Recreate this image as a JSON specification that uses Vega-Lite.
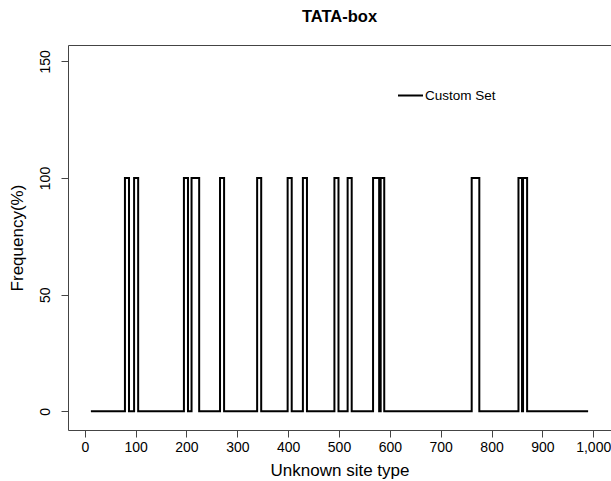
{
  "$schema": "https://vega.github.io/schema/vega-lite/v6.json",
  "autosize": "none",
  "width": 543,
  "height": 385,
  "padding": {"left": 68, "top": 45, "right": 0, "bottom": 51},
  "background": "white",
  "title": {
    "text": "TATA-box",
    "font": "Liberation Sans",
    "fontSize": 16.5,
    "fontWeight": "bold",
    "anchor": "middle",
    "offset": 20,
    "color": "#000"
  },
  "config": {
    "view": {"stroke": "#444", "strokeWidth": 1},
    "font": "Liberation Sans"
  },
  "data": {
    "values": [
      {"x": 12, "y": 0, "series": "Custom Set"},
      {"x": 79, "y": 100, "series": "Custom Set"},
      {"x": 87, "y": 0, "series": "Custom Set"},
      {"x": 97, "y": 100, "series": "Custom Set"},
      {"x": 105, "y": 0, "series": "Custom Set"},
      {"x": 195, "y": 100, "series": "Custom Set"},
      {"x": 203, "y": 0, "series": "Custom Set"},
      {"x": 210, "y": 100, "series": "Custom Set"},
      {"x": 225, "y": 0, "series": "Custom Set"},
      {"x": 266, "y": 100, "series": "Custom Set"},
      {"x": 274, "y": 0, "series": "Custom Set"},
      {"x": 339, "y": 100, "series": "Custom Set"},
      {"x": 347, "y": 0, "series": "Custom Set"},
      {"x": 399, "y": 100, "series": "Custom Set"},
      {"x": 407, "y": 0, "series": "Custom Set"},
      {"x": 429, "y": 100, "series": "Custom Set"},
      {"x": 437, "y": 0, "series": "Custom Set"},
      {"x": 491, "y": 100, "series": "Custom Set"},
      {"x": 499, "y": 0, "series": "Custom Set"},
      {"x": 517, "y": 100, "series": "Custom Set"},
      {"x": 525, "y": 0, "series": "Custom Set"},
      {"x": 567, "y": 100, "series": "Custom Set"},
      {"x": 579, "y": 0, "series": "Custom Set"},
      {"x": 582, "y": 100, "series": "Custom Set"},
      {"x": 589, "y": 0, "series": "Custom Set"},
      {"x": 761, "y": 100, "series": "Custom Set"},
      {"x": 776, "y": 0, "series": "Custom Set"},
      {"x": 853, "y": 100, "series": "Custom Set"},
      {"x": 860, "y": 0, "series": "Custom Set"},
      {"x": 862, "y": 100, "series": "Custom Set"},
      {"x": 870, "y": 0, "series": "Custom Set"},
      {"x": 990, "y": 0, "series": "Custom Set"}
    ]
  },
  "mark": {"type": "line", "interpolate": "step-after", "strokeWidth": 2},
  "encoding": {
    "x": {
      "field": "x",
      "type": "quantitative",
      "scale": {"domain": [-33, 1035], "nice": false, "zero": false},
      "axis": {
        "title": "Unknown site type",
        "values": [0, 100, 200, 300, 400, 500, 600, 700, 800, 900, 1000],
        "domain": false,
        "grid": false,
        "tickSize": 7,
        "tickColor": "#444",
        "labelFontSize": 14,
        "labelColor": "#000",
        "labelPadding": 3,
        "labelFlush": false,
        "labelOverlap": false,
        "titleFontSize": 17,
        "titleFontWeight": "normal",
        "titleColor": "#000",
        "titlePadding": 8
      }
    },
    "y": {
      "field": "y",
      "type": "quantitative",
      "scale": {"domain": [-8, 157], "nice": false, "zero": false},
      "axis": {
        "title": "Frequency(%)",
        "values": [0, 50, 100, 150],
        "domain": false,
        "grid": false,
        "tickSize": 7,
        "tickColor": "#444",
        "labelAngle": -90,
        "labelAlign": "center",
        "labelBaseline": "bottom",
        "labelFontSize": 14,
        "labelColor": "#000",
        "labelPadding": 9,
        "labelFlush": false,
        "labelOverlap": false,
        "titleFontSize": 17,
        "titleFontWeight": "normal",
        "titleColor": "#000",
        "titlePadding": 12
      }
    },
    "color": {
      "field": "series",
      "type": "nominal",
      "scale": {"range": ["#000000"]},
      "legend": {
        "title": null,
        "orient": "none",
        "legendX": 329,
        "legendY": 37,
        "symbolType": "stroke",
        "symbolSize": 625,
        "symbolStrokeWidth": 2,
        "labelOffset": 1,
        "labelFontSize": 13.5,
        "labelColor": "#000",
        "padding": 0
      }
    }
  }
}
